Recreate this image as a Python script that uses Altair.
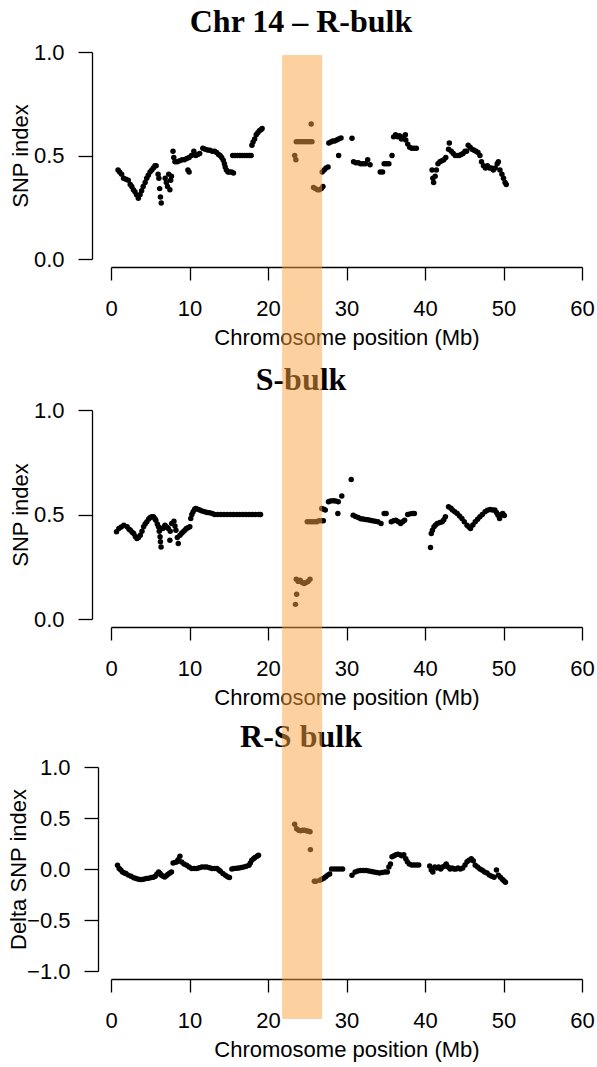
import altair as alt
import pandas as pd

# ---- SNP-index tracks along chromosome 14 (position in Mb) ----
r_pos = [0.9, 1.1, 1.35, 1.6, 1.9, 2.2, 2.45, 2.65, 2.85, 3.05, 3.25, 3.48, 3.7, 3.9, 4.1, 4.35, 4.55, 4.75, 4.97, 5.2, 5.4, 5.6, 5.75,
         6.0, 6.1, 6.2, 6.3, 6.4,
         6.9, 7.05, 7.2, 7.35, 7.5, 7.6, 7.7,
         7.9, 8.0,
         8.15, 8.45, 8.75, 9.05, 9.35, 9.65, 9.95, 10.25, 10.55, 10.8, 11.05, 11.3,
         9.8, 9.95,
         11.7, 12.0, 12.3, 12.6, 12.9, 13.2, 13.45,
         13.7, 13.9, 14.1, 14.3, 14.45, 14.55, 14.7, 14.9, 15.1, 15.35, 15.6,
         15.5, 15.8, 16.1, 16.4, 16.7, 17.0, 17.3, 17.6, 17.85,
         17.95, 18.1, 18.3, 18.5, 18.7, 18.9, 19.1, 19.25,
         23.4, 23.55, 23.6, 23.85, 24.1, 24.35, 24.6, 24.85, 25.1, 25.35, 25.6, 25.5,
         25.8, 26.05, 26.3, 26.55, 26.8, 27.0,
         26.9, 27.15, 27.4, 27.65,
         27.75, 28.0, 28.25, 28.5, 28.75, 29.0, 29.3,
         29.0, 30.7,
         30.9, 31.2, 31.5, 31.8, 32.1, 32.4, 32.7, 33.0,
         34.3, 34.6, 34.8, 35.1, 35.4, 35.8,
         36.0, 36.25, 36.5, 36.75, 37.0, 37.25, 37.5, 37.55,
         37.8, 38.05, 38.3, 38.6, 38.9,
         40.9, 41.0, 41.1, 41.3, 41.45,
         41.65, 41.9, 42.15, 42.4, 42.65,
         43.0, 43.1,
         43.35, 43.6, 43.85, 44.1, 44.35, 44.6, 44.85, 45.1, 45.3,
         45.5, 45.75,
         46.0, 46.25, 46.5, 46.75, 47.0,
         47.2, 47.45, 47.7, 47.95, 48.2, 48.45, 48.7, 48.95, 49.2, 49.35, 49.55,
         49.8, 50.0, 50.2, 50.35]
r_idx = [0.43, 0.42, 0.41, 0.39, 0.385, 0.38, 0.36, 0.35, 0.335, 0.325, 0.31, 0.293, 0.31, 0.33, 0.35, 0.37, 0.39, 0.405, 0.42, 0.43, 0.44, 0.45, 0.45,
         0.41, 0.39, 0.34, 0.30, 0.27,
         0.39, 0.37, 0.35, 0.41, 0.335, 0.38, 0.40,
         0.52, 0.49,
         0.47, 0.47, 0.475, 0.48, 0.48, 0.485, 0.49, 0.50, 0.52, 0.50, 0.505, 0.51,
         0.43, 0.42,
         0.535, 0.53, 0.527, 0.525, 0.52, 0.52, 0.515,
         0.505, 0.50, 0.49, 0.477, 0.46, 0.445, 0.43, 0.42, 0.42, 0.42, 0.415,
         0.50, 0.50, 0.50, 0.50, 0.50, 0.50, 0.50, 0.50, 0.50,
         0.55, 0.565, 0.58, 0.60, 0.61, 0.62, 0.625, 0.63,
         0.50, 0.48, 0.567, 0.567, 0.567, 0.567, 0.567, 0.567, 0.567, 0.567, 0.567, 0.652,
         0.345, 0.34, 0.335, 0.335, 0.34, 0.35,
         0.42, 0.43, 0.44, 0.445,
         0.56, 0.565, 0.57, 0.57, 0.575, 0.58, 0.585,
         0.50, 0.583,
         0.47, 0.465, 0.465, 0.46, 0.46, 0.46, 0.48, 0.455,
         0.42, 0.42, 0.46, 0.46, 0.46, 0.50,
         0.59, 0.60, 0.59, 0.595, 0.58, 0.59, 0.60, 0.575,
         0.555, 0.54, 0.535, 0.535, 0.535,
         0.43, 0.39, 0.37, 0.40, 0.43,
         0.46, 0.47, 0.475, 0.48, 0.49,
         0.53, 0.56,
         0.52, 0.51, 0.50, 0.50, 0.50, 0.505, 0.51, 0.52, 0.52,
         0.55, 0.54,
         0.53, 0.525, 0.52, 0.515, 0.50,
         0.47, 0.45, 0.44, 0.45, 0.44, 0.44, 0.43, 0.44, 0.46, 0.47, 0.43,
         0.41, 0.39, 0.37, 0.36]

s_pos = [0.7, 1.0, 1.3, 1.63, 2.05, 2.3, 2.47, 2.7, 2.89, 3.1, 3.3, 3.5, 3.73, 3.95, 4.15, 4.35, 4.57, 4.8, 5.0, 5.2, 5.41, 5.6, 5.71,
         5.9, 6.05, 6.15, 6.25, 6.3, 6.38,
         6.6, 6.75, 6.88, 7.1, 7.3, 7.5, 7.55, 7.73, 8.02, 8.15, 8.27, 8.45, 8.57, 8.78, 9.0, 9.2, 9.4, 9.6, 9.8, 10.04,
         10.16, 10.3, 10.46, 10.65, 10.8, 11.05, 11.3, 11.6, 11.93, 12.25, 12.56, 12.9,
         13.2, 13.6, 14.0, 14.4, 14.8, 15.2, 15.6, 16.0, 16.4, 16.8, 17.2, 17.6, 18.0, 18.4, 18.8, 19.05,
         23.5, 23.65, 23.6, 23.85, 24.1, 24.35, 24.6, 24.85, 25.1, 25.35,
         25.0, 25.3, 25.6, 25.9, 26.2, 26.5, 26.8, 27.05,
         26.85, 27.1, 27.3,
         27.7, 27.95, 28.3, 28.6, 28.95, 29.4,
         28.9, 30.6,
         30.85, 31.15, 31.5, 31.8, 32.1, 32.4, 32.7, 33.0, 33.3, 33.65, 34.0, 34.4,
         34.8, 35.05,
         35.7, 36.0, 36.3, 36.6, 36.9, 37.15, 37.4,
         37.8, 38.1, 38.4, 38.65,
         40.7,
         40.8, 40.95, 41.15, 41.35, 41.56, 41.9, 42.2, 42.4, 42.6,
         43.0,
         43.3, 43.5, 43.8, 44.1, 44.4, 44.7, 45.0, 45.35, 45.6, 45.8,
         46.1, 46.4, 46.7, 47.0, 47.3, 47.65, 47.95, 48.3, 48.6, 48.9,
         49.1, 49.3, 49.5, 49.7, 49.9, 50.1]
s_idx = [0.417, 0.433, 0.44, 0.449, 0.441, 0.43, 0.425, 0.415, 0.409, 0.395, 0.385, 0.39, 0.401, 0.42, 0.441, 0.455, 0.465, 0.478, 0.486, 0.489, 0.489, 0.48, 0.473,
         0.455, 0.441, 0.42, 0.393, 0.37, 0.345,
         0.433, 0.44, 0.449, 0.44, 0.433, 0.377, 0.42, 0.457, 0.468, 0.445, 0.425, 0.39, 0.361, 0.401, 0.41, 0.417, 0.425, 0.433, 0.437, 0.441,
         0.481, 0.50, 0.513, 0.525, 0.529, 0.525, 0.521, 0.517, 0.513, 0.51, 0.508, 0.505,
         0.50, 0.50, 0.50, 0.50, 0.50, 0.50, 0.50, 0.50, 0.50, 0.50, 0.50, 0.50, 0.50, 0.50, 0.50, 0.50,
         0.07, 0.118, 0.19, 0.18, 0.185, 0.175, 0.17, 0.175, 0.18, 0.19,
         0.465, 0.465, 0.465, 0.465, 0.465, 0.47, 0.47, 0.47,
         0.529, 0.525, 0.521,
         0.561, 0.565, 0.566, 0.565, 0.561, 0.588,
         0.505, 0.668,
         0.497, 0.49, 0.486, 0.48, 0.478, 0.476, 0.475, 0.473, 0.47, 0.468, 0.465, 0.457,
         0.505, 0.505,
         0.465, 0.47, 0.473, 0.465, 0.457, 0.465, 0.473,
         0.50, 0.503, 0.505, 0.505,
         0.342,
         0.409, 0.425, 0.441, 0.45, 0.457, 0.462, 0.465, 0.475, 0.489,
         0.537,
         0.53, 0.521, 0.513, 0.505, 0.493, 0.481, 0.465, 0.449, 0.44, 0.433,
         0.45, 0.465, 0.477, 0.489, 0.50, 0.513, 0.52, 0.524, 0.522, 0.521,
         0.51, 0.497, 0.481, 0.50, 0.505, 0.495]

d_pos = [0.83, 1.04, 1.25, 1.47, 1.7, 1.9, 2.2, 2.55, 2.9, 3.2, 3.5, 3.84, 4.15, 4.48, 4.8, 5.13, 5.4, 5.64, 5.85, 6.07, 6.25, 6.42, 6.65, 6.84, 7.05, 7.27, 7.5, 7.7,
         7.91, 8.15, 8.35, 8.55, 8.78, 9.0, 9.3, 9.64, 9.95, 10.28, 10.6, 10.93, 11.25, 11.57, 11.9, 12.2, 12.55, 12.86, 13.2, 13.5, 13.75, 13.93, 14.25, 14.57, 14.85, 15.09,
         15.4, 15.65, 16.0, 16.3, 16.6, 16.93, 17.25, 17.58, 17.75, 17.93, 18.15, 18.35, 18.6, 18.79,
         23.4, 23.65, 23.9, 24.15, 24.4, 24.65, 24.9, 25.15, 25.35, 25.4, 25.9, 26.1,
         26.6, 26.85, 27.1, 27.35, 27.6, 27.85,
         28.1, 28.45, 28.8, 29.15, 29.5,
         30.7,
         31.1, 31.45, 31.8, 32.15, 32.5, 32.85, 33.2,
         33.5, 33.85, 34.2, 34.55, 34.9, 35.2,
         35.4, 35.6,
         35.8, 36.05, 36.3, 36.55, 36.8, 37.05, 37.3,
         37.55, 37.75, 38.0, 38.3, 38.6, 38.9, 39.2,
         40.6, 40.8, 41.0,
         41.25, 41.5, 41.75, 42.0, 42.25, 42.5, 42.7, 42.95, 43.2, 43.45, 43.7, 43.95, 44.2,
         44.5, 44.8, 45.1, 45.35, 45.6, 45.9, 46.15,
         46.4, 46.7, 47.0, 47.3, 47.6, 47.9, 48.2, 48.5, 48.8,
         49.1,
         49.35, 49.6, 49.85, 50.05, 50.25]
d_idx = [0.036, 0.004, -0.01, -0.029, -0.04, -0.045, -0.06, -0.072, -0.085, -0.094, -0.10, -0.104, -0.10, -0.094, -0.09, -0.084, -0.08, -0.072, -0.05, -0.029, -0.045, -0.062, -0.07, -0.078, -0.065, -0.052, -0.04, -0.029,
         0.059, 0.065, 0.069, 0.09, 0.125, 0.069, 0.05, 0.036, 0.02, 0.004, 0.004, 0.004, 0.012, 0.02, 0.02, 0.02, 0.012, 0.004, 0.004, 0.004, -0.01, -0.023, -0.045, -0.062, -0.075, -0.084,
         0.0, 0.004, 0.007, 0.01, 0.015, 0.02, 0.028, 0.036, 0.06, 0.085, 0.10, 0.112, 0.125, 0.134,
         0.438, 0.395, 0.38, 0.375, 0.38, 0.38, 0.375, 0.37, 0.365, 0.19, -0.12, -0.12,
         -0.11, -0.10, -0.09, -0.075, -0.06, -0.05,
         0.0, 0.0, 0.0, 0.0, 0.0,
         -0.062,
         -0.03, -0.02, -0.015, -0.015, -0.015, -0.02, -0.025,
         -0.03, -0.035, -0.04, -0.035, -0.03, -0.03,
         0.02, 0.05,
         0.12, 0.13, 0.14, 0.145, 0.14, 0.13, 0.14,
         0.10, 0.07, 0.05, 0.04, 0.04, 0.04, 0.04,
         0.03, -0.01, -0.03,
         0.02, 0.01, 0.02, 0.0, 0.02, 0.03, 0.05, 0.02, 0.0, 0.01, 0.0, 0.0, 0.01,
         0.0, 0.01, 0.04, 0.07, 0.085, 0.10, 0.08,
         0.036, 0.02, 0.0, -0.013, -0.03, -0.04, -0.06, -0.07, -0.08,
         -0.01,
         -0.06, -0.08, -0.10, -0.115, -0.13]

panel_titles = ["Chr 14 \u2013 R-bulk", "S-bulk", "R-S bulk"]
y_titles = ["SNP index", "SNP index", "Delta SNP index"]
x_ticks = [0, 10, 20, 30, 40, 50, 60]
snp_ticks = [0.0, 0.5, 1.0]
delta_ticks = [-1.0, -0.5, 0.0, 0.5, 1.0]
region_mb = [21.8, 26.9]          # highlighted candidate interval

PLOT_W = 471
SANS = "Liberation Sans"
SERIF = "Liberation Serif"
BAND_COLOR = "#FBA440"


def x_enc(field):
    return alt.X(
        field,
        type="quantitative",
        title="Chromosome position (Mb)",
        scale=alt.Scale(domain=[0, 60], nice=False, zero=False),
        axis=alt.Axis(values=x_ticks, format="d", offset=8, tickSize=13,
                      labelPadding=18, titlePadding=8, grid=False,
                      labelFlush=False, zindex=0),
    )


def panel(pos, idx, title, ytitle, ydomain, yticks, height, y_off, t_pad,
          band_top, band_bottom, frame_top, frame_bottom):
    pts = pd.DataFrame({"pos": pos, "idx": idx})
    region = pd.DataFrame({"start": [region_mb[0]], "end": [region_mb[1]]})
    heading = pd.DataFrame({"label": [title]})

    points = alt.Chart(pts).mark_circle(size=30, color="black", opacity=1).encode(
        x=x_enc("pos"),
        y=alt.Y("idx:Q", title=ytitle,
                scale=alt.Scale(domain=ydomain, nice=False, zero=False),
                axis=alt.Axis(values=yticks, format=".1f", offset=y_off, tickSize=14,
                              labelPadding=14, titlePadding=t_pad, grid=False, zindex=0)),
    )
    head = alt.Chart(heading).mark_text(
        font=SERIF, fontWeight="bold", fontSize=32, align="center",
        baseline="alphabetic", color="black",
    ).encode(x=alt.value(190), y=alt.value(-20), text="label:N")
    band = alt.Chart(region).mark_rect(color=BAND_COLOR, opacity=0.5).encode(
        x=x_enc("start"), x2="end:Q",
        y=alt.value(band_top), y2=alt.value(band_bottom),
    )
    # transparent frame that fixes the extent of each panel's slice of the page
    frame = alt.Chart(region).mark_rect(opacity=0).encode(
        x=alt.value(-111), x2=alt.value(486),
        y=alt.value(frame_top), y2=alt.value(frame_bottom),
    )
    return alt.layer(points, head, band, frame).properties(width=PLOT_W, height=height)


p1 = panel(r_pos, r_idx, panel_titles[0], y_titles[0], [0, 1], snp_ticks, 207, 19, 1,
           3, 306, -52, 306)
p2 = panel(s_pos, s_idx, panel_titles[1], y_titles[1], [0, 1], snp_ticks, 209, 19, 1,
           -52, 308, -52, 308)
p3 = panel(d_pos, d_idx, panel_titles[2], y_titles[2], [-1, 1], delta_ticks, 204, 13, -4,
           -49, 252, -49, 300)

chart = alt.vconcat(p1, p2, p3, spacing=0).properties(
    padding=0, background="white"
).configure_view(strokeWidth=0).configure_axis(
    domainColor="black", tickColor="black", labelColor="black", titleColor="black",
    domainWidth=1.3, tickWidth=1.3,
    labelFont=SANS, titleFont=SANS, labelFontSize=22, titleFontSize=22,
    titleFontWeight="normal",
)

chart.save("out.html", embed_options={"renderer": "svg", "actions": False})
